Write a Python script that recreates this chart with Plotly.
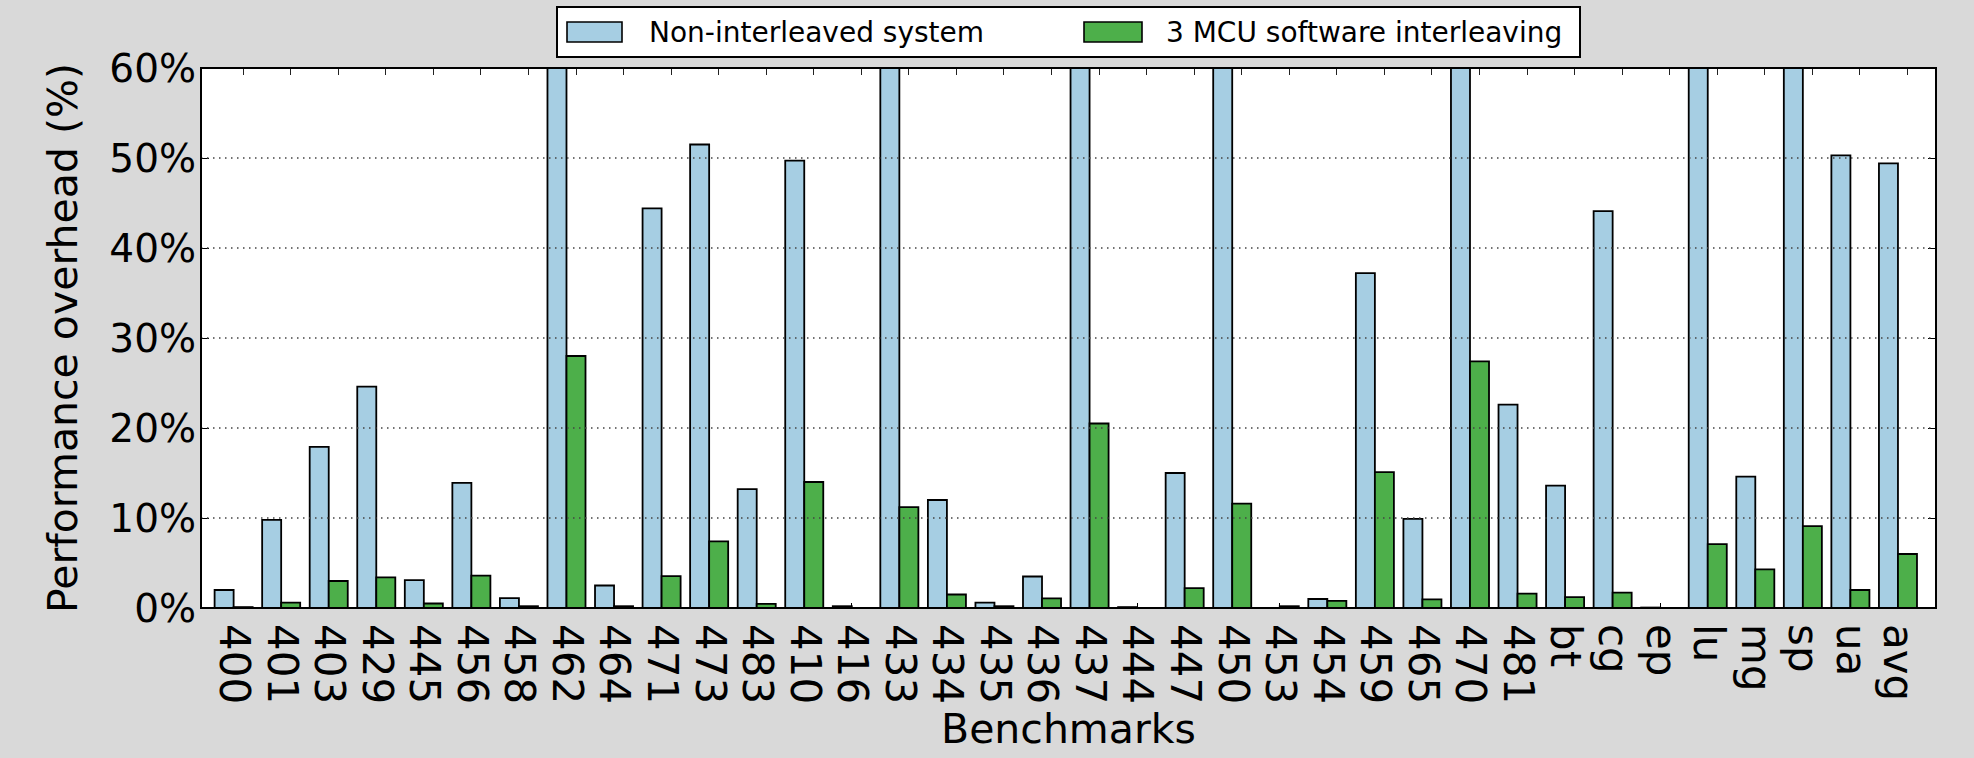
import plotly.graph_objects as go

# Benchmarks on the x axis
benchmarks = ["400", "401", "403", "429", "445", "456", "458", "462", "464",
              "471", "473", "483", "410", "416", "433", "434", "435", "436",
              "437", "444", "447", "450", "453", "454", "459", "465", "470",
              "481", "bt", "cg", "ep", "lu", "mg", "sp", "ua", "avg"]

# Performance overhead (%) per benchmark; bars above 60% run off the top of the axis
non_interleaved = [2.0, 9.8, 17.9, 24.6, 3.1, 13.9, 1.1, 180.0, 2.5,
                   44.4, 51.5, 13.2, 49.7, 0.2, 120.0, 12.0, 0.6, 3.5,
                   230.0, 0.1, 15.0, 160.0, 0.0, 1.0, 37.2, 9.9, 260.0,
                   22.6, 13.6, 44.1, 0.05, 150.0, 14.6, 170.0, 50.3, 49.4]
sw_interleaving = [0.1, 0.6, 3.0, 3.4, 0.5, 3.6, 0.2, 28.0, 0.2,
                   3.55, 7.4, 0.45, 14.0, 0.0, 11.2, 1.5, 0.2, 1.07,
                   20.5, 0.0, 2.2, 11.6, 0.2, 0.8, 15.1, 0.96, 27.4,
                   1.6, 1.2, 1.7, 0.0, 7.1, 4.3, 9.1, 2.0, 6.0]

series_names = ["Non-interleaved system", "3 MCU software interleaving"]
series_colors = ["#a6cee3", "#4daf4a"]

y_ticks = [0, 10, 20, 30, 40, 50, 60]
y_tick_text = [f"{v}%" for v in y_ticks]

FONT = "DejaVu Sans"
BAR_W = 0.4
X_RANGE = [-0.686, 35.80]

# figure geometry (pixels)
W, H = 1974, 758
ML, MR, MT, MB = 201, 38, 68, 150
PW, PH = W - ML - MR, H - MT - MB


def px_x(px):
    return (px - ML) / PW


def px_y(py):
    return (H - MB - py) / PH


fig = go.Figure()
for name, vals, color, off in [(series_names[0], non_interleaved, series_colors[0], -BAR_W),
                               (series_names[1], sw_interleaving, series_colors[1], 0.0)]:
    fig.add_trace(go.Bar(
        x=benchmarks, y=vals, name=name, width=BAR_W, offset=off,
        marker=dict(color=color, line=dict(color="black", width=1.8)),
        showlegend=False,
    ))

# invisible trace to carry the top tick axis
fig.add_trace(go.Scatter(x=[0], y=[0], xaxis="x2", mode="markers",
                         marker=dict(opacity=0), showlegend=False, hoverinfo="skip"))

shapes = []
# dotted grid drawn over the bars
for v in y_ticks[1:-1]:
    shapes.append(dict(type="line", xref="paper", yref="y", x0=0, x1=1, y0=v, y1=v,
                       line=dict(color="#444444", width=1.4, dash="1.5px,4.5px"),
                       layer="above"))
# plot frame
shapes.append(dict(type="rect", xref="paper", yref="paper", x0=0, x1=1, y0=0, y1=1,
                   line=dict(color="black", width=2), layer="above"))

# legend box drawn by hand
shapes.append(dict(type="rect", xref="paper", yref="paper",
                   x0=px_x(557), x1=px_x(1580), y0=px_y(57), y1=px_y(7),
                   fillcolor="white", line=dict(color="black", width=2)))
annotations = []
for (sx0, sx1, tx), name, color in zip([(567, 622, 647), (1084, 1142, 1164)],
                                       series_names, series_colors):
    shapes.append(dict(type="rect", xref="paper", yref="paper",
                       x0=px_x(sx0), x1=px_x(sx1), y0=px_y(42), y1=px_y(22),
                       fillcolor=color, line=dict(color="black", width=1.6)))
    annotations.append(dict(text=name, xref="paper", yref="paper",
                            x=px_x(tx), y=px_y(32), xanchor="left", yanchor="middle",
                            showarrow=False, font=dict(family=FONT, size=28, color="black")))

# axis titles
annotations.append(dict(text="Performance overhead (%)", xref="paper", yref="paper",
                        x=px_x(63), y=px_y(338), textangle=-90,
                        xanchor="center", yanchor="middle", showarrow=False,
                        font=dict(family=FONT, size=41, color="black")))
annotations.append(dict(text="Benchmarks", xref="paper", yref="paper",
                        x=0.5, y=px_y(729), xanchor="center", yanchor="middle",
                        showarrow=False, font=dict(family=FONT, size=41, color="black")))

fig.update_layout(
    width=W, height=H,
    margin=dict(l=ML, r=MR, t=MT, b=MB, pad=0),
    paper_bgcolor="#d9d9d9", plot_bgcolor="white",
    barmode="overlay",
    font=dict(family=FONT, color="black"),
    shapes=shapes, annotations=annotations,
    xaxis=dict(type="category", categoryorder="array", categoryarray=benchmarks,
               tickmode="array", tickvals=benchmarks, ticktext=benchmarks,
               range=X_RANGE, tickangle=90, ticks="inside", ticklen=5,
               tickcolor="black", tickwidth=1, layer="below traces",
               tickfont=dict(family=FONT, size=42, color="black"),
               ticklabelstandoff=15, showgrid=False, zeroline=False, showline=False),
    xaxis2=dict(overlaying="x", side="top", range=X_RANGE,
                tickvals=[i + BAR_W / 2 for i in range(len(benchmarks))],
                ticks="inside", ticklen=7, tickcolor="#222222", tickwidth=1.2,
                showticklabels=False, showgrid=False, zeroline=False, showline=False),
    yaxis=dict(range=[0, 60], tickvals=y_ticks, ticktext=y_tick_text,
               ticks="inside", ticklen=8, tickcolor="black", mirror="ticks",
               tickfont=dict(family=FONT, size=39, color="black"),
               ticklabelstandoff=4, showgrid=False, zeroline=False, showline=False),
)

fig.write_html("out.html")
